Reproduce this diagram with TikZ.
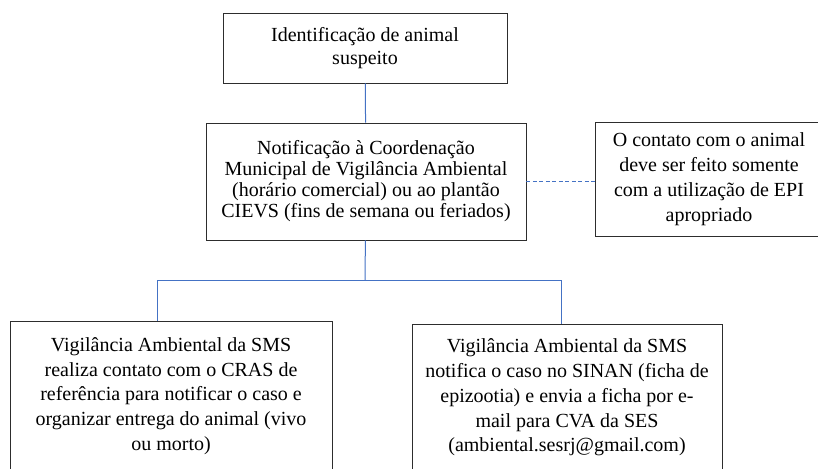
\documentclass[tikz,border=0pt]{standalone}
\usepackage{fontspec}
\setmainfont{Liberation Serif}
\newfontfamily\boxfont{Liberation Serif}
\usetikzlibrary{positioning, calc}
\definecolor{linkblue}{RGB}{68,114,196}
\definecolor{boxgray}{RGB}{45,45,45}

\begin{document}
\begin{tikzpicture}[
    x=1pt, y=-1pt,
    fbox/.style={draw=boxgray, line width=0.9pt, fill=white,
        inner sep=0pt, align=center, font=\boxfont\fontsize{20}{#1}\selectfont},
    fbox/.default=21,
    link/.style={linkblue, line width=1pt},
    note/.style={linkblue, line width=1pt, dash pattern=on 4pt off 2.5pt}
]
\clip (0,0) rectangle (818,468);

% Step 1
\node[fbox=23, minimum width=284, minimum height=70] (b1) at (365,48) {
    Identificação de animal\\
    suspeito
};

% Step 2
\node[fbox, minimum width=320, minimum height=117] (b2) at (366,181.5) {
    Notificação à Coordenação\\
    Municipal de Vigilância Ambiental\\
    (horário comercial) ou ao plantão\\
    CIEVS (fins de semana ou feriados)
};

% EPI note
\node[fbox=25, minimum width=228, minimum height=114] (b3) at (709,179) {
    O contato com o animal\\
    deve ser feito somente\\
    com a utilização de EPI\\
    apropriado
};

% Step 3a
\node[fbox=24.8, minimum width=322, minimum height=150] (b4) at (171,396) {
    Vigilância Ambiental da SMS\\
    realiza contato com o CRAS de\\
    referência para notificar o caso e\\
    organizar entrega do animal (vivo\\
    ou morto)
};

% Step 3b
\node[fbox=24.8, minimum width=310, minimum height=147] (b5) at (567,397.5) {
    Vigilância Ambiental da SMS\\
    notifica o caso no SINAN (ficha de\\
    epizootia) e envia a ficha por e-\\
    mail para CVA da SES\\
    (ambiental.sesrj@gmail.com)
};

\coordinate (split) at (365,280);
\coordinate (j4) at (157,280);
\coordinate (j5) at (561,280);

\draw[link] (b1) -- (b2);
\draw[note] (b2.east) -- (b2.east -| b3.west);
\draw[link] (b2) -- (split);
\draw[link] (j4) -- (j5);
\draw[link] (j4) -- (j4 |- b4.north);
\draw[link] (j5) -- (j5 |- b5.north);

\end{tikzpicture}
\end{document}
